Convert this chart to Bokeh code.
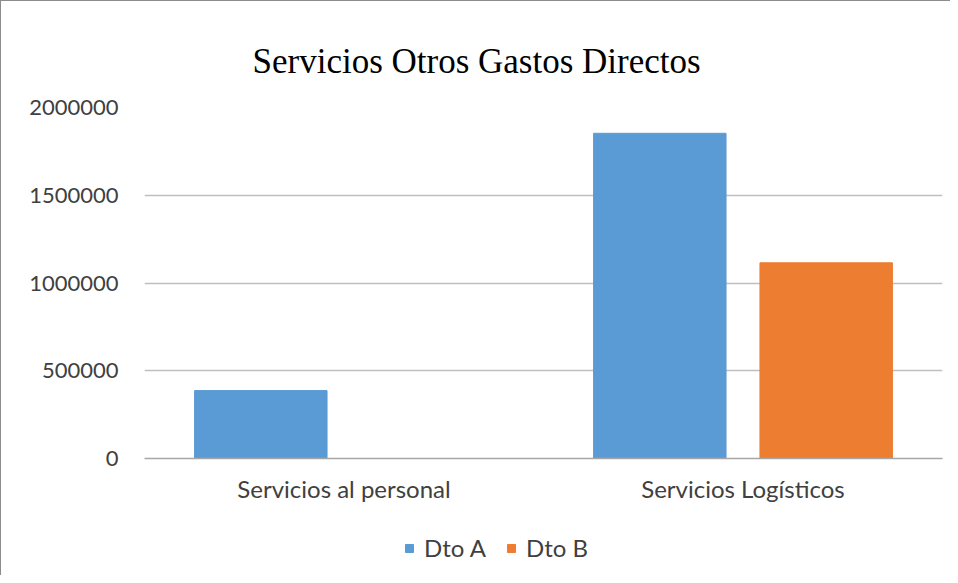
from bokeh.plotting import figure
from bokeh.layouts import column
from bokeh.models import ColumnDataSource, FactorRange, Range1d, Legend, LegendItem, FixedTicker, NumeralTickFormatter
from bokeh.transform import dodge
from bokeh.embed import file_html
from bokeh.resources import INLINE

categories = ["Servicios al personal", "Servicios Logísticos"]
dto_a = [387000, 1853000]
dto_b = [0, 1115000]
series_names = ["Dto A", "Dto B"]
colors = ["#5B9BD5", "#ED7D31"]
y_ticks = [0, 500000, 1000000, 1500000, 2000000]

source = ColumnDataSource(data=dict(cat=categories, a=dto_a, b=dto_b))

p = figure(width=950, height=525, x_range=FactorRange(*categories, range_padding=0),
           y_range=Range1d(0, 2000000), output_backend="svg", toolbar_location=None,
           min_border_left=143, min_border_right=9, min_border_top=106, min_border_bottom=68)
p.styles = {"border-left": "1px solid #8c8c8c", "border-top": "1px solid #8c8c8c"}

r_a = p.vbar(x=dodge("cat", -0.2085, range=p.x_range), top="a", width=0.332, source=source,
             fill_color=colors[0], line_color=colors[0])
r_b = p.vbar(x=dodge("cat", 0.2085, range=p.x_range), top="b", width=0.332, source=source,
             fill_color=colors[1], line_color=colors[1])

p.title.text = "Servicios  Otros  Gastos  Directos"
p.title.text_font = "Liberation Serif"
p.title.text_font_size = "35px"
p.title.text_font_style = "normal"
p.title.text_color = "#000000"
p.title.align = "left"
p.title.offset = 108
p.title.standoff = 53

p.outline_line_color = None
p.background_fill_color = "white"
p.border_fill_color = "white"

p.xgrid.grid_line_color = None
p.ygrid.grid_line_color = "#BFBFBF"
p.ygrid.grid_line_width = 1.3
p.yaxis.ticker = FixedTicker(ticks=y_ticks)
p.yaxis.formatter = NumeralTickFormatter(format="0")
p.yaxis.axis_line_color = None
p.yaxis.major_tick_line_color = None
p.yaxis.minor_tick_line_color = None
p.yaxis.major_label_standoff = 20
p.yaxis.major_label_text_font = "Lato"
p.yaxis.major_label_text_font_size = "22px"
p.yaxis.major_label_text_color = "#404040"

p.xaxis.axis_line_color = "#A6A6A6"
p.xaxis.axis_line_width = 1.3
p.xaxis.major_tick_line_color = None
p.xaxis.minor_tick_line_color = None
p.xaxis.major_label_standoff = 9
p.xaxis.major_label_text_font = "Lato"
p.xaxis.major_label_text_font_size = "24px"
p.xaxis.major_label_text_color = "#404040"

# legend strip below the chart (its frame is aligned with the chart's frame)
lg = figure(width=950, height=50, x_range=Range1d(0, 1), y_range=Range1d(0, 1),
            output_backend="svg", toolbar_location=None,
            min_border_left=0, min_border_right=0, min_border_top=0, min_border_bottom=0)
lg.styles = {"border-left": "1px solid #8c8c8c"}
lg.axis.visible = False
lg.grid.visible = False
lg.outline_line_color = None
offscreen = ColumnDataSource(data=dict(x=[-5], top=[-5], bottom=[-6]))
g_a = lg.vbar(x="x", top="top", bottom="bottom", width=0.1, source=offscreen,
              fill_color=colors[0], line_color=colors[0])
g_b = lg.vbar(x="x", top="top", bottom="bottom", width=0.1, source=offscreen,
              fill_color=colors[1], line_color=colors[1])

legend = Legend(items=[LegendItem(label=series_names[0], renderers=[g_a]),
                       LegendItem(label=series_names[1], renderers=[g_b])],
                orientation="horizontal", location=(260, 13),
                glyph_width=10, glyph_height=10, label_text_font="Lato",
                label_text_font_size="24px", label_text_color="#404040",
                border_line_color=None, background_fill_alpha=0, spacing=20,
                label_standoff=10, padding=0, margin=0)
lg.add_layout(legend, "center")

layout = column(p, lg, spacing=0)
open("out.html", "w").write(file_html(layout, INLINE))
